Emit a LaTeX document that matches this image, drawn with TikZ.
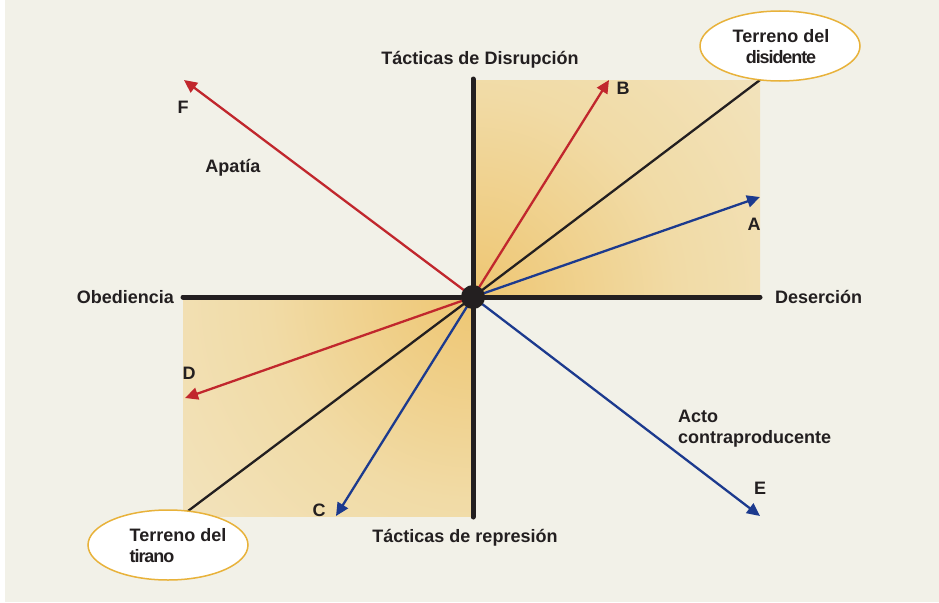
\documentclass[tikz,border=0pt]{standalone}
\usepackage{fontspec}
\setmainfont{Liberation Sans}
\usetikzlibrary{arrows.meta,shapes.geometric}
\definecolor{bgcream}{HTML}{F2F1E8}
\definecolor{ink}{HTML}{231F20}
\definecolor{redray}{HTML}{C1272D}
\definecolor{blueray}{HTML}{1C3A8E}
\definecolor{goldline}{HTML}{E8B23A}
\definecolor{gold}{HTML}{EEC672}
\definecolor{goldmid}{HTML}{F1DBA6}
\definecolor{pale}{HTML}{F4EFDF}
\pgfdeclareradialshading{quadglow}{\pgfpoint{0bp}{0bp}}{color(0bp)=(gold); color(7bp)=(goldmid); color(21bp)=(pale); color(50bp)=(pale)}
\begin{document}
\begin{tikzpicture}[x=1pt,y=-1pt,
  lbl/.style={font=\bfseries\fontsize{18}{21}\selectfont,text=ink,inner sep=0pt},
  ray/.style={line width=2.3pt,-{Triangle[length=13pt,width=12pt]}},
  axisline/.style={line width=5pt,ink,line cap=round},
  terrain/.style={ellipse,draw=goldline,line width=1.5pt,fill=white,
    minimum width=160pt,minimum height=70pt,inner sep=0pt}]

\useasboundingbox (0,0) rectangle (939,602);
\fill[white] (0,0) rectangle (939,602);
\fill[bgcream] (5,0) rectangle (939,602);

\coordinate (o) at (473,297);

% shaded quadrants
\begin{scope}
\clip (473,80) rectangle (760,297);
\shade[shading=quadglow] (o) circle (730pt);
\end{scope}

\begin{scope}
\clip (183,297) rectangle (473,516);
\shade[shading=quadglow] (o) circle (730pt);
\end{scope}

% axes
\coordinate (obe) at (183,297);
\coordinate (des) at (760,297);
\coordinate (dis) at (473,79);
\coordinate (rep) at (473,517);
\draw[axisline] (obe) -- (des);
\draw[axisline] (dis) -- (rep);

% terrain lines
\coordinate (dend) at (760,80);
\coordinate (tend) at (188,511);
\draw[ink,line width=2.3pt] (o) -- (dend);
\draw[ink,line width=2.3pt] (o) -- (tend);

\node[terrain] (disid) at (780,46) {};
\node[lbl,align=center] (disidtxt) at (781,47) {Terreno del\\\addfontfeature{LetterSpace=-6}disidente};
\node[terrain] (tiran) at (168,545) {};
\node[lbl,align=left] (tirantxt) at (178,546) {Terreno del\\\addfontfeature{LetterSpace=-6}tirano};

% rays
\coordinate (tipA) at (760,197);
\coordinate (tipB) at (609,80);
\coordinate (tipC) at (336,516);
\coordinate (tipD) at (185,398);
\coordinate (tipE) at (760,516);
\coordinate (tipF) at (184,80);
\draw[ray,redray] (o) -- (tipB);
\draw[ray,redray] (o) -- (tipF);
\draw[ray,redray] (o) -- (tipD);
\draw[ray,blueray] (o) -- (tipA);
\draw[ray,blueray] (o) -- (tipC);
\draw[ray,blueray] (o) -- (tipE);

\fill[ink] (o) circle (12pt);

% letters
\node[lbl] (A) at (754,224) {A};
\node[lbl] (B) at (623,88) {B};
\node[lbl] (C) at (319,510) {C};
\node[lbl] (D) at (189,373) {D};
\node[lbl] (E) at (760,488) {E};
\node[lbl] (F) at (183,107) {F};

% axis titles
\node[lbl] (disr) at (480,60) {Tácticas de Disrupción};
\node[lbl] (repr) at (465,538) {Tácticas de represión};
\node[lbl,anchor=east] (obed) at (174,297) {Obediencia};
\node[lbl,anchor=west] (dese) at (775,297) {Deserción};

\node[lbl] (apat) at (233,168) {Apatía};
\node[lbl,align=left,anchor=north west] (acto) at (678,410) {Acto\\contraproducente};

\end{tikzpicture}
\end{document}
